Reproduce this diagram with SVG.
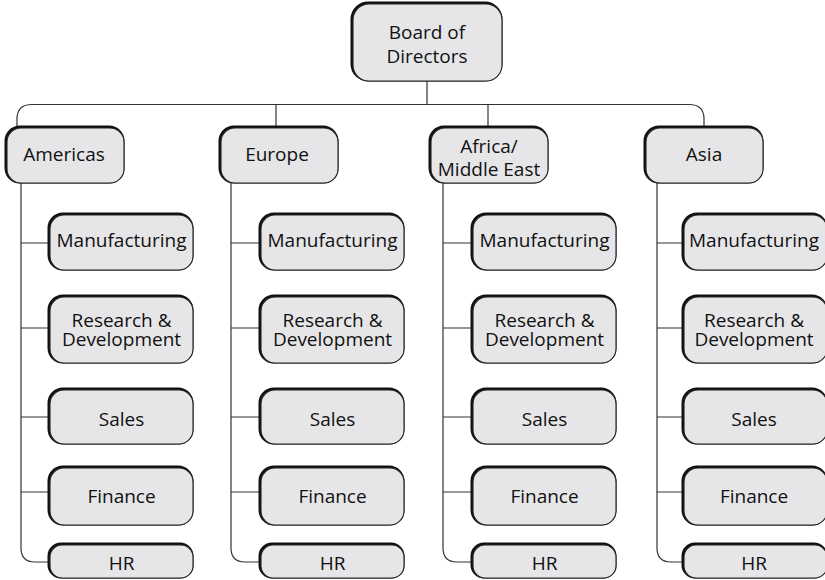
<svg xmlns="http://www.w3.org/2000/svg" width="825" height="580" viewBox="0 0 825 580">
<style>
.bk{fill:none;stroke:#111;stroke-width:3}
.fr{fill:#e6e6e8;stroke:#222;stroke-width:1.1}
.ln{fill:none;stroke:#333;stroke-width:1.2}
text{font-family:"Open Sans","Liberation Sans",sans-serif;font-size:19px;fill:#111;text-anchor:middle}
</style>
<defs>
<rect id="rg" width="117" height="55" rx="14"/>
<rect id="c1" width="143" height="55" rx="14"/>
<rect id="c2" width="143" height="66" rx="14"/>
<rect id="c3" width="143" height="54" rx="14"/>
<rect id="c4" width="143" height="57" rx="14"/>
<rect id="c5" width="143" height="33" rx="12"/>
</defs>
<rect width="825" height="580" fill="#fff"/>
<g id="connectors" class="ln">
<path d="M427 81V104"/>
<path d="M17 128V119Q17 104.5 32 104.5H689Q704 104.5 704 119V128"/>
<path d="M276 104.5V128"/>
<path d="M488 104.5V128"/>
<path d="M21 183V548Q21 562 35 562H50M21 243H50M21 328H50M21 417H50M21 492H50"/>
<path d="M231 183V548Q231 562 245 562H261M231 243H261M231 328H261M231 417H261M231 492H261"/>
<path d="M443 183V548Q443 562 457 562H473M443 243H473M443 328H473M443 417H473M443 492H473"/>
<path d="M657 183V548Q657 562 671 562H684M657 243H684M657 328H684M657 417H684M657 492H684"/>
</g>
<g id="board"><rect class="bk" x="352" y="3" width="149" height="77" rx="16"/><rect class="fr" x="353" y="4" width="149" height="77" rx="16"/><text x="427" y="39">Board of</text><text x="427" y="63">Directors</text></g>
<g id="americas"><use href="#rg" class="bk" x="6" y="127"/><use href="#rg" class="fr" x="7" y="128"/><text x="64" y="161">Americas</text></g>
<g id="europe"><use href="#rg" class="bk" x="220" y="127"/><use href="#rg" class="fr" x="221" y="128"/><text x="277" y="161">Europe</text></g>
<g id="africa"><use href="#rg" class="bk" x="430" y="127"/><use href="#rg" class="fr" x="431" y="128"/><text x="489" y="153">Africa/</text><text x="489" y="176">Middle East</text></g>
<g id="asia"><use href="#rg" class="bk" x="645" y="127"/><use href="#rg" class="fr" x="646" y="128"/><text x="704" y="161">Asia</text></g>

<g id="am-mfg"><use href="#c1" class="bk" x="49" y="214"/><use href="#c1" class="fr" x="50" y="215"/><text x="121.5" y="247">Manufacturing</text></g>
<g id="am-rd"><use href="#c2" class="bk" x="49" y="296"/><use href="#c2" class="fr" x="50" y="297"/><text x="121.5" y="327">Research &amp;</text><text x="121.5" y="346">Development</text></g>
<g id="am-sales"><use href="#c3" class="bk" x="49" y="389"/><use href="#c3" class="fr" x="50" y="390"/><text x="121.5" y="426">Sales</text></g>
<g id="am-fin"><use href="#c4" class="bk" x="49" y="467"/><use href="#c4" class="fr" x="50" y="468"/><text x="121.5" y="503">Finance</text></g>
<g id="am-hr"><use href="#c5" class="bk" x="49" y="544"/><use href="#c5" class="fr" x="50" y="545"/><text x="121.5" y="570">HR</text></g>

<g id="eu-mfg"><use href="#c1" class="bk" x="260" y="214"/><use href="#c1" class="fr" x="261" y="215"/><text x="332.5" y="247">Manufacturing</text></g>
<g id="eu-rd"><use href="#c2" class="bk" x="260" y="296"/><use href="#c2" class="fr" x="261" y="297"/><text x="332.5" y="327">Research &amp;</text><text x="332.5" y="346">Development</text></g>
<g id="eu-sales"><use href="#c3" class="bk" x="260" y="389"/><use href="#c3" class="fr" x="261" y="390"/><text x="332.5" y="426">Sales</text></g>
<g id="eu-fin"><use href="#c4" class="bk" x="260" y="467"/><use href="#c4" class="fr" x="261" y="468"/><text x="332.5" y="503">Finance</text></g>
<g id="eu-hr"><use href="#c5" class="bk" x="260" y="544"/><use href="#c5" class="fr" x="261" y="545"/><text x="332.5" y="570">HR</text></g>

<g id="af-mfg"><use href="#c1" class="bk" x="472" y="214"/><use href="#c1" class="fr" x="473" y="215"/><text x="544.5" y="247">Manufacturing</text></g>
<g id="af-rd"><use href="#c2" class="bk" x="472" y="296"/><use href="#c2" class="fr" x="473" y="297"/><text x="544.5" y="327">Research &amp;</text><text x="544.5" y="346">Development</text></g>
<g id="af-sales"><use href="#c3" class="bk" x="472" y="389"/><use href="#c3" class="fr" x="473" y="390"/><text x="544.5" y="426">Sales</text></g>
<g id="af-fin"><use href="#c4" class="bk" x="472" y="467"/><use href="#c4" class="fr" x="473" y="468"/><text x="544.5" y="503">Finance</text></g>
<g id="af-hr"><use href="#c5" class="bk" x="472" y="544"/><use href="#c5" class="fr" x="473" y="545"/><text x="544.5" y="570">HR</text></g>

<g id="as-mfg"><use href="#c1" class="bk" x="683" y="214"/><use href="#c1" class="fr" x="684" y="215"/><text x="754" y="247">Manufacturing</text></g>
<g id="as-rd"><use href="#c2" class="bk" x="683" y="296"/><use href="#c2" class="fr" x="684" y="297"/><text x="754" y="327">Research &amp;</text><text x="754" y="346">Development</text></g>
<g id="as-sales"><use href="#c3" class="bk" x="683" y="389"/><use href="#c3" class="fr" x="684" y="390"/><text x="754" y="426">Sales</text></g>
<g id="as-fin"><use href="#c4" class="bk" x="683" y="467"/><use href="#c4" class="fr" x="684" y="468"/><text x="754" y="503">Finance</text></g>
<g id="as-hr"><use href="#c5" class="bk" x="683" y="544"/><use href="#c5" class="fr" x="684" y="545"/><text x="754" y="570">HR</text></g>
</svg>
